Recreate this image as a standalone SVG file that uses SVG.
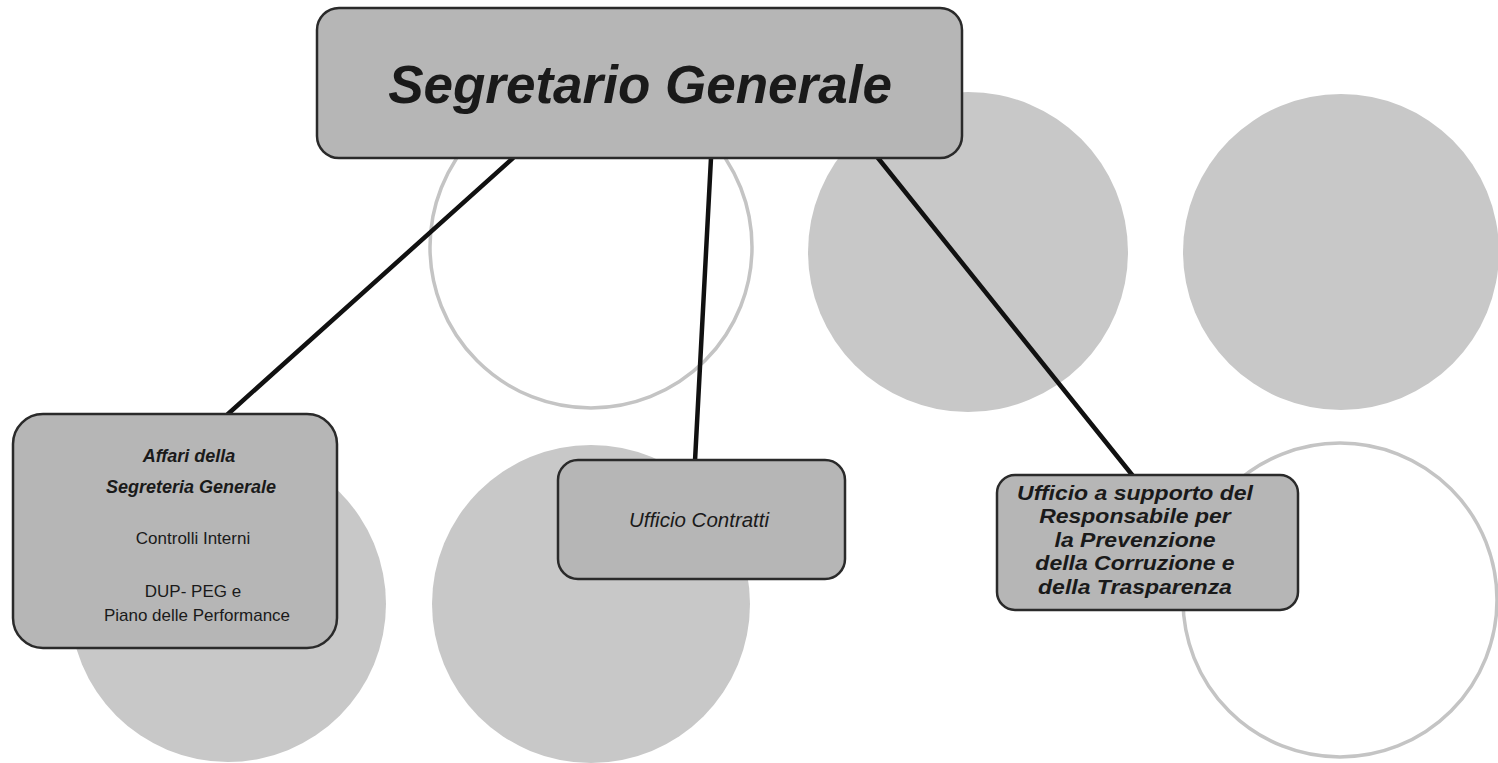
<svg xmlns="http://www.w3.org/2000/svg" width="1498" height="763" viewBox="0 0 1498 763">
<style>
.bg{fill:#ffffff}
.disc{fill:#c8c8c8;stroke:none}
.ring{fill:none;stroke:#c4c4c4;stroke-width:3.5}
.box{fill:#b6b6b6;stroke:#2a2a2a;stroke-width:2.5}
.conn{stroke:#111111;stroke-width:4.5;fill:none;stroke-linecap:round}
text{font-family:"Liberation Sans",Arial,sans-serif;fill:#1a1a1a;text-anchor:middle}
.bi{font-weight:bold;font-style:italic}
.it{font-style:italic}
</style>
<rect class="bg" x="0" y="0" width="1498" height="763"/>
<g id="decor">
<circle class="ring" cx="591" cy="247" r="161"/>
<circle class="disc" cx="968" cy="252" r="160"/>
<circle class="disc" cx="1341" cy="252" r="158"/>
<circle class="disc" cx="228" cy="604" r="158"/>
<circle class="disc" cx="591" cy="604" r="159"/>
<circle class="ring" cx="1340" cy="600" r="157"/>
</g>
<g id="connectors">
<line class="conn" x1="513" y1="158" x2="228" y2="414"/>
<line class="conn" x1="711" y1="158" x2="695" y2="461"/>
<line class="conn" x1="878" y1="158" x2="1133" y2="476"/>
</g>
<g id="node-segretario">
<rect class="box" x="317" y="8" width="645" height="150" rx="22"/>
<text class="bi" x="640" y="103" font-size="53">Segretario Generale</text>
</g>
<g id="node-affari">
<rect class="box" x="13" y="414" width="324" height="234" rx="30"/>
<text class="bi" x="189" y="462" font-size="18">Affari della</text>
<text class="bi" x="191" y="493" font-size="18">Segreteria Generale</text>
<text x="193" y="544" font-size="17">Controlli Interni</text>
<text x="193" y="597" font-size="17">DUP- PEG e</text>
<text x="197" y="621" font-size="17">Piano delle Performance</text>
</g>
<g id="node-contratti">
<rect class="box" x="558" y="460" width="287" height="119" rx="20"/>
<text class="it" x="699" y="527" font-size="20.5">Ufficio Contratti</text>
</g>
<g id="node-anticorruzione">
<rect class="box" x="997" y="475" width="301" height="135" rx="18"/>
<g transform="translate(1135,0) scale(1.18,1) translate(-1135,0)">
<text class="bi" x="1135" y="500" font-size="19.5">Ufficio a supporto del</text>
<text class="bi" x="1135" y="523.5" font-size="19.5">Responsabile per</text>
<text class="bi" x="1135" y="547" font-size="19.5">la Prevenzione</text>
<text class="bi" x="1135" y="570.5" font-size="19.5">della Corruzione e</text>
<text class="bi" x="1135" y="594" font-size="19.5">della Trasparenza</text>
</g>
</g>
</svg>
